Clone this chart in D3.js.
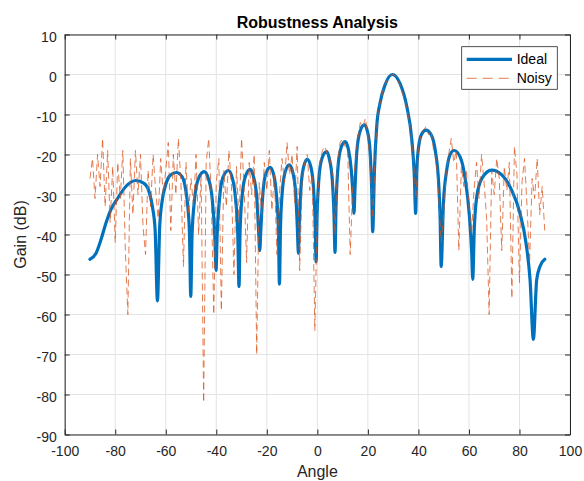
<!DOCTYPE html>
<html>
<head>
<meta charset="utf-8">
<script src="https://cdn.jsdelivr.net/npm/d3@7"></script>
<style>
  html, body { margin: 0; padding: 0; background: #fff; }
  svg { display: block; font-family: Arial, "Liberation Sans", Helvetica, sans-serif; }
</style>
</head>
<body>
<svg id="chart" width="584" height="481"></svg>
<script>
// ---- data ----
const xTicks = [-100, -80, -60, -40, -20, 0, 20, 40, 60, 80, 100];
const yTicks = [-90, -80, -70, -60, -50, -40, -30, -20, -10, 0, 10];
const seriesNames = ["Ideal", "Noisy"];

const idealAngle = [
  -90, -87.6, -85.7, -83.7, -81.8, -79.1, -75.8, -71.9, -68.6, -66.6, -65.3, -64.2, -63.3,
  -62.4, -61.4, -60, -58.2, -55.8, -53.5, -52.2, -51.2, -50.6, -50.1,
  -49.6, -48.6, -47.1, -44.8, -43.1, -41.6, -40.6, -40.1,
  -39.65, -38.7, -37.4, -35.2, -33.7, -32.4, -31.5, -31,
  -30.6, -29.8, -28.5, -26.6, -25.3, -24, -23.2, -22.8,
  -22.4, -21.6, -20.5, -18.7, -17.3, -16.2, -15.4, -15,
  -14.6, -13.9, -12.75, -11.1, -9.75, -8.6, -7.9, -7.5,
  -7.15, -6.45, -5.4, -4, -2.6, -1.55, -0.85, -0.5,
  -0.1, 0.6, 1.75, 3.7, 4.75, 5.9, 6.6, 7,
  7.4, 8.1, 9.25, 11, 12.25, 13.4, 14.1, 14.5,
  14.9, 15.6, 16.9, 18.6, 19.9, 20.9, 21.5, 21.9,
  22.6, 23.5, 24.8, 26.8, 29.7, 32.7, 35.4, 37.4, 38.4, 38.9,
  39.3, 40, 41.2, 43, 45, 46.8, 48, 48.6, 49,
  49.9, 51.2, 52.5, 54.1, 56.5, 58.5, 60.2, 61.1, 61.5,
  62.1, 63.1, 65.1, 69, 73, 76.9, 80.2, 82.6, 84.2, 85.5, 86.8, 88.1, 90
];
const idealGain = [
  -46.2, -44.7, -41.4, -37.2, -33.9, -31, -28, -26.5, -27.2, -29.3, -33, -38.9, -56.6,
  -38, -31.5, -27.5, -25.2, -24.5, -25.6, -28.5, -33.5, -40, -55.5,
  -40.3, -31.2, -26.1, -24.3, -26.1, -31.2, -40.3, -49,
  -40, -30.9, -25.8, -24, -25.8, -30.9, -40, -53,
  -39.7, -30.6, -25.5, -23.7, -25.5, -30.6, -39.7, -44,
  -39.2, -30.1, -25, -23.2, -25, -30.1, -39.2, -52.4,
  -38.6, -29.5, -24.4, -22.6, -24.4, -29.5, -38.6, -44.7,
  -37.2, -28.1, -23, -21.2, -23, -28.1, -37.2, -46.8,
  -35.3, -26.2, -21.1, -19.3, -21.1, -26.2, -35.3, -44.5,
  -32.8, -23.7, -18.6, -16.8, -18.6, -23.7, -30, -34.7,
  -28.6, -19.5, -14.2, -12.6, -14.4, -19.5, -28.6, -39.3,
  -23.9, -13, -7.2, -2.6, 0, -2.2, -8, -16.4, -25.5, -34.7,
  -25, -18.5, -15, -13.9, -15, -19.5, -27, -36, -48,
  -32.2, -23.9, -20.1, -19, -20.6, -26, -35.5, -44.7, -51.2,
  -38.9, -30.5, -26, -23.9, -25.1, -28.9, -34.7, -42.2, -51.4, -66.2, -51.4, -48, -46.2
];

const noisyAngle = [
  -90, -89, -88, -87, -86, -85, -84, -83, -82, -81, -80, -79, -78, -77, -76, -75, -74, -73, -72, -71,
  -70, -69, -68, -67, -66, -65, -64, -63, -62, -61, -60, -59, -58, -57, -56, -55, -54, -53, -52, -51,
  -50, -49, -48, -47, -46, -45, -44, -43, -42, -41, -40, -39, -38, -37, -36, -35, -34, -33, -32, -31,
  -30, -29, -28, -27, -26, -25, -24, -23, -22, -21, -20, -19, -18, -17, -16, -15, -14, -13, -12, -11,
  -10, -9, -8, -7, -6, -5, -4, -3, -2, -1, 0, 1, 2, 3, 4, 5, 6, 7, 8, 9,
  10, 11, 12, 13, 14, 15, 16, 17, 18, 19, 20, 21, 22, 23, 24, 25, 26, 27, 28, 29,
  30, 31, 32, 33, 34, 35, 36, 37, 38, 39, 40, 41, 42, 43, 44, 45, 46, 47, 48, 49,
  50, 51, 52, 53, 54, 55, 56, 57, 58, 59, 60, 61, 62, 63, 64, 65, 66, 67, 68, 69,
  70, 71, 72, 73, 74, 75, 76, 77, 78, 79, 80, 81, 82, 83, 84, 85, 86, 87, 88, 89, 90
];
const noisyGain = [
  -26, -21, -31, -20, -28, -16, -33, -19, -37, -23, -42, -22, -31, -19, -44, -60, -21, -35, -19, -30,
  -20, -38, -45, -24, -33, -20, -29, -36, -21, -30, -24, -17, -39, -20, -30, -16, -27, -48, -22, -35,
  -26, -33, -20, -40, -25, -82, -22, -16, -30, -60, -27, -21, -59, -24, -33, -19, -28, -50, -23, -37,
  -16, -28, -47, -22, -30, -20, -70, -27, -35, -22, -29, -19, -34, -25, -45, -30, -21, -27, -17, -25,
  -20, -32, -18, -49, -27, -22, -20, -29, -25, -64, -33, -22, -19, -18, -20, -21, -25, -40, -22, -17,
  -16, -18, -19, -45, -28, -22, -16, -12, -13, -11, -15, -24, -36, -18, -9.6, -6.8, -4, -2.3, -1, -0.2,
  0, -0.4, -1.7, -3.2, -5.3, -7.3, -10.5, -14.6, -21, -31, -19, -15, -14, -13, -15, -14, -19, -21, -30, -42,
  -35, -25, -20, -16, -22, -19, -44, -23, -28, -24, -33, -40, -29, -22, -31, -20, -27, -36, -60, -24,
  -30, -21, -26, -44, -23, -29, -22, -56, -18, -25, -52, -27, -21, -33, -47, -26, -31, -21, -35, -28, -39
];

// ---- layout ----
const W = 584, H = 481;
const plot = { left: 64.7, top: 34.5, right: 570, bottom: 434.5 };
const svg = d3.select("#chart");

const x = d3.scaleLinear().domain([-100, 100]).range([plot.left, plot.right]);
const y = d3.scaleLinear().domain([-90, 10]).range([plot.bottom, plot.top]);

const axisColor = "#262626";
const gridColor = "#e3e3e3";
const fmt = d => String(d);

// grid
const grid = svg.append("g");
grid.selectAll("line.gx").data(xTicks).join("line")
  .attr("x1", d => x(d)).attr("x2", d => x(d))
  .attr("y1", plot.top).attr("y2", plot.bottom)
  .attr("stroke", gridColor).attr("stroke-width", 1);
grid.selectAll("line.gy").data(yTicks).join("line")
  .attr("y1", d => y(d)).attr("y2", d => y(d))
  .attr("x1", plot.left).attr("x2", plot.right)
  .attr("stroke", gridColor).attr("stroke-width", 1);

// clip
svg.append("clipPath").attr("id", "clip").append("rect")
  .attr("x", plot.left).attr("y", plot.top)
  .attr("width", plot.right - plot.left).attr("height", plot.bottom - plot.top);

const idealData = idealAngle.map((a, i) => [a, idealGain[i]]);
const noisyData = noisyAngle.map((a, i) => [a, noisyGain[i]]);

const lines = svg.append("g").attr("clip-path", "url(#clip)");
lines.append("path")
  .attr("d", d3.line().x(d => x(d[0])).y(d => y(d[1])).curve(d3.curveMonotoneX)(idealData))
  .attr("fill", "none").attr("stroke", "#0072BD").attr("stroke-width", 3.2)
  .attr("stroke-linejoin", "round").attr("stroke-linecap", "round");
lines.append("path")
  .attr("d", d3.line().x(d => x(d[0])).y(d => y(d[1]))(noisyData))
  .attr("fill", "none").attr("stroke", "#D95319").attr("stroke-opacity", 0.75)
  .attr("stroke-width", 1).attr("stroke-dasharray", "7,4");

// axes
const fontTick = "14px";
const gx = svg.append("g").attr("transform", `translate(0,${plot.bottom})`)
  .call(d3.axisBottom(x).tickValues(xTicks).tickFormat(fmt).tickSizeInner(-5).tickSizeOuter(0).tickPadding(12));
const gxTop = svg.append("g").attr("transform", `translate(0,${plot.top})`)
  .call(d3.axisTop(x).tickValues(xTicks).tickFormat("").tickSizeInner(-5).tickSizeOuter(0));
const gy = svg.append("g").attr("transform", `translate(${plot.left},0)`)
  .call(d3.axisLeft(y).tickValues(yTicks).tickFormat(fmt).tickSizeInner(-5).tickSizeOuter(0).tickPadding(8));
const gyR = svg.append("g").attr("transform", `translate(${plot.right},0)`)
  .call(d3.axisRight(y).tickValues(yTicks).tickFormat("").tickSizeInner(-5).tickSizeOuter(0));

[gx, gxTop, gy, gyR].forEach(g => {
  g.select(".domain").attr("stroke", axisColor).attr("stroke-width", 1);
  g.selectAll(".tick line").attr("stroke", axisColor);
  g.selectAll(".tick text").attr("fill", axisColor)
    .style("font-size", fontTick).style("font-family", "Arial, 'Liberation Sans', sans-serif");
});
gy.selectAll(".tick text").attr("dy", "0.5em");

// title & labels
svg.append("text").attr("x", (plot.left + plot.right) / 2).attr("y", 28)
  .attr("text-anchor", "middle").style("font-size", "16px").style("font-weight", "bold")
  .attr("fill", "#000").text("Robustness Analysis");
svg.append("text").attr("x", (plot.left + plot.right) / 2).attr("y", 477)
  .attr("text-anchor", "middle").style("font-size", "16px")
  .attr("fill", axisColor).text("Angle");
svg.append("text")
  .attr("transform", `translate(26,${(plot.top + plot.bottom) / 2}) rotate(-90)`)
  .attr("text-anchor", "middle").style("font-size", "16px")
  .attr("fill", axisColor).text("Gain (dB)");

// legend
const lg = svg.append("g");
lg.append("rect").attr("x", 461.7).attr("y", 46.7).attr("width", 95.6).attr("height", 42.6)
  .attr("fill", "#fff").attr("stroke", axisColor).attr("stroke-width", 0.8);
const legendItems = [
  { name: seriesNames[0], color: "#0072BD", width: 3.2, dash: null, opacity: 1 },
  { name: seriesNames[1], color: "#D95319", width: 1, dash: "10,6", opacity: 0.75 }
];
legendItems.forEach((it, i) => {
  const ly = 59.3 + i * 19;
  lg.append("line").attr("x1", 466.7).attr("x2", 512).attr("y1", ly).attr("y2", ly)
    .attr("stroke", it.color).attr("stroke-width", it.width).attr("stroke-opacity", it.opacity)
    .attr("stroke-dasharray", it.dash);
  lg.append("text").attr("x", 516.7).attr("y", ly).attr("dy", "0.35em")
    .style("font-size", "14px").attr("fill", "#000").text(it.name);
});
</script>
</body>
</html>
